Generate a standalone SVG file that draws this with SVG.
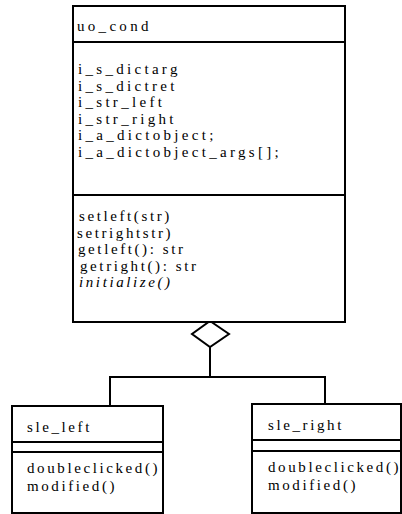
<svg xmlns="http://www.w3.org/2000/svg" width="402" height="514" viewBox="0 0 402 514">
<style>
.box{fill:#fff;stroke:#000;stroke-width:2}
.sep{stroke:#000;stroke-width:2}
.t{font-family:"Liberation Serif","Times New Roman",serif;font-size:15px;fill:#000}
.a{letter-spacing:3.3px}
.m{letter-spacing:2.6px}
.it{font-style:italic}
.conn{fill:none;stroke:#000;stroke-width:2}
</style>
<rect width="402" height="514" fill="#fff"/>
<g id="connectors">
<polyline class="conn" points="210,347 210,377"/>
<polyline class="conn" points="110,406 110,377 325,377 325,404"/>
<polygon class="box" points="210,321 229,334 210,347 192,334"/>
</g>
<g id="uo_cond">
<rect class="box" x="73" y="6" width="272" height="316"/>
<line class="sep" x1="73" y1="42" x2="345" y2="42"/>
<line class="sep" x1="73" y1="195" x2="345" y2="195"/>
<text class="t a" x="77" y="31">uo_cond</text>
<text class="t a" x="78" y="74">i_s_dictarg</text>
<text class="t a" x="78" y="90.6">i_s_dictret</text>
<text class="t a" x="78" y="107.2">i_str_left</text>
<text class="t a" x="78" y="123.8">i_str_right</text>
<text class="t a" x="78" y="140.4">i_a_dictobject;</text>
<text class="t a" x="78" y="157">i_a_dictobject_args[];</text>
<text class="t m" x="79" y="221">setleft(str)</text>
<text class="t m" x="77" y="237.6">setrightstr)</text>
<text class="t m" x="78" y="254.2">getleft(): str</text>
<text class="t m" x="80" y="270.8">getright(): str</text>
<text class="t m it" x="79" y="287.4">initialize()</text>
</g>
<g id="sle_left">
<rect class="box" x="12" y="406" width="151" height="107"/>
<line class="sep" x1="12" y1="442" x2="163" y2="442"/>
<line class="sep" x1="12" y1="452" x2="163" y2="452"/>
<text class="t m" x="27" y="432">sle_left</text>
<text class="t m" x="27" y="473">doubleclicked()</text>
<text class="t m" x="27" y="491">modified()</text>
</g>
<g id="sle_right">
<rect class="box" x="252" y="404" width="149" height="109"/>
<line class="sep" x1="252" y1="440" x2="401" y2="440"/>
<line class="sep" x1="252" y1="451" x2="401" y2="451"/>
<text class="t m" x="268" y="430">sle_right</text>
<text class="t m" x="268" y="472">doubleclicked()</text>
<text class="t m" x="268" y="490">modified()</text>
</g>
</svg>
